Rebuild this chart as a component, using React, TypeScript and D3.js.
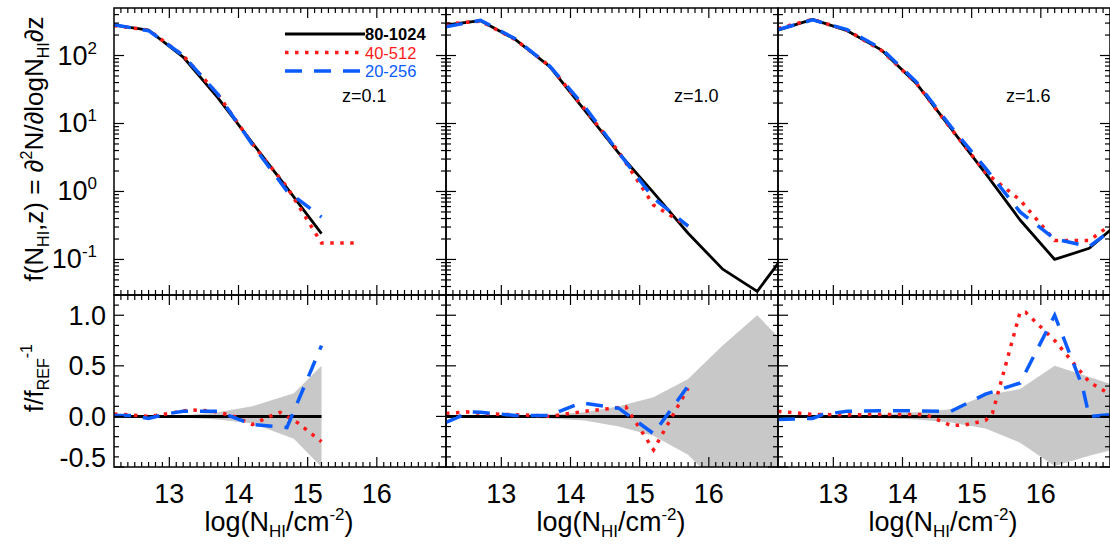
import React from 'react';
import * as d3 from 'd3';

// ---------- data ----------
const logN = [12.2, 12.7, 13.2, 13.7, 14.2, 14.7, 15.2, 15.7, 16.2, 16.7, 17.2];

const redshiftLabels = ['z=0.1', 'z=1.0', 'z=1.6'];
const legendLabels = ['80-1024', '40-512', '20-256'];
const xTicks = [13, 14, 15, 16];
const yTopTickExps = [-1, 0, 1, 2];
const yBotTicks = [-0.5, 0.0, 0.5, 1.0];
const yBotTickLabels = ['-0.5', '0.0', '0.5', '1.0'];

// z = 0.1
const f80_z01 = [281, 237, 95, 24, 5.2, 1.13, 0.24];
const f40_z01 = [275, 237, 100, 27, 5.0, 1.17, 0.175, 0.175];
const f20_z01 = [283, 232, 100, 27, 4.9, 1.02, 0.42];
// z = 1.0
const f80_z10 = [281, 325, 173, 68.5, 15.8, 3.65, 0.96, 0.243, 0.072, 0.034, 0.163];
const f40_z10 = [291, 320, 172, 70, 16.5, 3.8, 0.63, 0.31];
const f20_z10 = [265, 330, 176, 70, 18, 3.7, 0.8, 0.31];
// z = 1.6
const f80_z16 = [237, 340, 232, 120, 38.8, 8.5, 1.85, 0.38, 0.1, 0.146, 0.4];
const f40_z16 = [250, 340, 235, 118, 39, 8.4, 1.9, 0.75, 0.19, 0.19, 0.45];
const f20_z16 = [240, 335, 240, 125, 41, 9, 2.2, 0.5, 0.2, 0.155, 0.37];

// ratio f/f_REF - 1
const r40x_z01 = [12.2, 12.7, 13.0, 13.3, 13.6, 13.9, 14.2, 14.45, 14.6, 14.85, 15.2];
const r40y_z01 = [0.025, 0.0, 0.03, 0.065, 0.055, 0.01, -0.08, 0.0, 0.04, -0.06, -0.25];
const r20x_z01 = [12.2, 12.45, 12.7, 13.0, 13.2, 13.7, 14.2, 14.7, 15.2];
const r20y_z01 = [0.01, 0.01, -0.02, 0.03, 0.05, 0.05, -0.08, -0.11, 0.7];
const bandX_z01 = [12.2, 12.7, 13.2, 13.7, 14.2, 14.8, 15.2];
const bandHi_z01 = [0.003, 0.005, 0.01, 0.04, 0.1, 0.23, 0.5];
const bandLo_z01 = [-0.003, -0.005, -0.01, -0.03, -0.07, -0.22, -0.5];

const r40x_z10 = [12.2, 12.5, 12.7, 13.0, 13.5, 13.7, 14.2, 14.8, 15.2, 15.7];
const r40y_z10 = [0.03, 0.045, 0.03, 0.02, 0.01, 0.0, 0.05, 0.095, -0.33, 0.28];
const r20x_z10 = [12.2, 12.55, 12.7, 13.2, 13.7, 14.15, 14.7, 15.2, 15.7];
const r20y_z10 = [-0.06, 0.045, 0.04, 0.01, 0.01, 0.135, 0.08, -0.17, 0.3];
const bandX_z10 = [12.2, 13.2, 13.7, 14.2, 14.7, 15.2, 15.7, 16.2, 16.7, 17.2];
const bandHi_z10 = [0.003, 0.01, 0.02, 0.04, 0.1, 0.19, 0.37, 0.7, 1.0, 0.64];
const bandLo_z10 = [-0.003, -0.01, -0.02, -0.04, -0.1, -0.19, -0.38, -0.72, -1.0, -0.7];

const r40x_z16 = [12.2, 12.7, 13.2, 13.7, 14.2, 14.35, 14.7, 14.9, 15.2, 15.3, 15.7, 15.78, 16.2, 16.7, 17.2];
const r40y_z16 = [0.05, 0.02, 0.015, 0.02, 0.02, 0.015, -0.09, -0.085, -0.04, 0.03, 1.03, 1.03, 0.75, 0.34, 0.14];
const r20x_z16 = [12.2, 12.7, 12.85, 13.2, 13.7, 14.2, 14.7, 15.2, 15.7, 16.2, 16.6, 16.7, 17.2];
const r20y_z16 = [-0.03, -0.02, 0.02, 0.05, 0.055, 0.055, 0.05, 0.22, 0.33, 1.0, 0.3, 0.0, 0.03];
const bandX_z16 = [12.2, 13.2, 13.7, 14.2, 14.7, 15.2, 15.7, 16.2, 16.7, 17.2];
const bandHi_z16 = [0.003, 0.01, 0.02, 0.04, 0.07, 0.21, 0.27, 0.5, 0.39, 0.28];
const bandLo_z16 = [-0.003, -0.01, -0.015, -0.03, -0.06, -0.12, -0.26, -0.49, -0.39, -0.3];

// ---------- layout ----------
const W = 1110;
const H = 546;
const panelLefts = [114, 446, 778];
const panelW = 332;
const topY0 = 8;
const midY = 295;
const botY1 = 467;
const FONT = "'Liberation Sans', Arial, Helvetica, sans-serif";
const RED = '#ff1a1a';
const BLUE = '#0a5cff';
const GRAY = '#c8c8c8';
const TICKFS = 27;

const panels = [
  { z: redshiftLabels[0], f80: f80_z01, f40: f40_z01, f20: f20_z01, r40x: r40x_z01, r40y: r40y_z01, r20x: r20x_z01, r20y: r20y_z01, bx: bandX_z01, bhi: bandHi_z01, blo: bandLo_z01 },
  { z: redshiftLabels[1], f80: f80_z10, f40: f40_z10, f20: f20_z10, r40x: r40x_z10, r40y: r40y_z10, r20x: r20x_z10, r20y: r20y_z10, bx: bandX_z10, bhi: bandHi_z10, blo: bandLo_z10 },
  { z: redshiftLabels[2], f80: f80_z16, f40: f40_z16, f20: f20_z16, r40x: r40x_z16, r40y: r40y_z16, r20x: r20x_z16, r20y: r20y_z16, bx: bandX_z16, bhi: bandHi_z16, blo: bandLo_z16 },
];

const yTop = d3.scaleLog().domain([0.03, 500]).range([midY, topY0]);
const yBot = d3.scaleLinear().domain([-0.5, 1.2]).range([botY1, midY]);

function Panel({ i, p }: { i: number; p: any }) {
  const left = panelLefts[i];
  const right = left + panelW;
  const xs = d3.scaleLinear().domain([12.2, 17.0]).range([left, right]);
  const lineTop = d3.line<[number, number]>().x(d => xs(d[0])).y(d => yTop(d[1]));
  const lineBot = d3.line<[number, number]>().x(d => xs(d[0])).y(d => yBot(d[1]));
  const area = d3.area<[number, number, number]>().x(d => xs(d[0])).y0(d => yBot(d[2])).y1(d => yBot(d[1]));

  const pts = (vals: number[]) => vals.map((v, k) => [logN[k], v] as [number, number]);
  const zip = (xa: number[], ya: number[]) => xa.map((x, k) => [x, ya[k]] as [number, number]);
  const band = p.bx.map((x: number, k: number) => [x, p.bhi[k], p.blo[k]] as [number, number, number]);
  const zero = p.f80.map((_: number, k: number) => [logN[k], 0] as [number, number]);

  const minorX: number[] = [];
  for (let k = 1; k < 48; k++) {
    const v = 12.2 + k * 0.1;
    if (Math.abs(v - Math.round(v)) > 0.01) minorX.push(v);
  }
  const majorX = [13, 14, 15, 16];
  const logMinor: number[] = [];
  for (let e = -2; e <= 2; e++) for (let m = 2; m <= 9; m++) {
    const v = m * Math.pow(10, e);
    if (v > 0.03 && v < 500) logMinor.push(v);
  }
  const linTicks: number[] = [];
  for (let k = -5; k <= 12; k++) linTicks.push(k / 10);

  const tk = { stroke: '#000', strokeWidth: 1.2 };
  const ticks: React.ReactNode[] = [];
  [topY0, midY, botY1].forEach((yy, idx) => {
    minorX.forEach((v, k) => {
      const x = xs(v);
      if (idx !== 2) ticks.push(<line key={`mxd${idx}-${k}`} x1={x} x2={x} y1={yy} y2={yy + 5} {...tk} />);
      if (idx !== 0) ticks.push(<line key={`mxu${idx}-${k}`} x1={x} x2={x} y1={yy} y2={yy - 5} {...tk} />);
    });
    majorX.forEach((v, k) => {
      const x = xs(v);
      if (idx !== 2) ticks.push(<line key={`Mxd${idx}-${k}`} x1={x} x2={x} y1={yy} y2={yy + 10} {...tk} />);
      if (idx !== 0) ticks.push(<line key={`Mxu${idx}-${k}`} x1={x} x2={x} y1={yy} y2={yy - 10} {...tk} />);
    });
  });
  [left, right].forEach((xx, idx) => {
    const dir = idx === 0 ? 1 : -1;
    logMinor.forEach((v, k) => {
      const y = yTop(v);
      ticks.push(<line key={`lm${idx}-${k}`} x1={xx} x2={xx + dir * 5} y1={y} y2={y} {...tk} />);
    });
    yTopTickExps.forEach(e => {
      const y = yTop(Math.pow(10, e));
      ticks.push(<line key={`lM${idx}-${e}`} x1={xx} x2={xx + dir * 10} y1={y} y2={y} {...tk} />);
    });
    linTicks.forEach((v, k) => {
      const y = yBot(v);
      const major = Math.abs(v * 2 - Math.round(v * 2)) < 0.01;
      ticks.push(<line key={`bt${idx}-${k}`} x1={xx} x2={xx + dir * (major ? 10 : 5)} y1={y} y2={y} {...tk} />);
    });
  });

  return (
    <g>
      <defs>
        <clipPath id={`ct${i}`}><rect x={left} y={topY0} width={panelW} height={midY - topY0} /></clipPath>
        <clipPath id={`cb${i}`}><rect x={left} y={midY} width={panelW} height={botY1 - midY} /></clipPath>
      </defs>
      <g clipPath={`url(#ct${i})`}>
        <path d={lineTop(pts(p.f80)) || ''} fill="none" stroke="#000" strokeWidth={2.8} strokeLinejoin="round" />
        <path d={lineTop(pts(p.f40)) || ''} fill="none" stroke={RED} strokeWidth={3.5} strokeDasharray="3.5,6.5" />
        <path d={lineTop(pts(p.f20)) || ''} fill="none" stroke={BLUE} strokeWidth={3.5} strokeDasharray="17,12" />
      </g>
      <g clipPath={`url(#cb${i})`}>
        <path d={area(band) || ''} fill={GRAY} stroke="none" />
        <path d={lineBot(zero) || ''} fill="none" stroke="#000" strokeWidth={3} />
        <path d={lineBot(zip(p.r40x, p.r40y)) || ''} fill="none" stroke={RED} strokeWidth={3.5} strokeDasharray="3.5,6.5" />
        <path d={lineBot(zip(p.r20x, p.r20y)) || ''} fill="none" stroke={BLUE} strokeWidth={3.5} strokeDasharray="17,12" />
      </g>
      <rect x={left} y={topY0} width={panelW} height={midY - topY0} fill="none" stroke="#000" strokeWidth={1.5} />
      <rect x={left} y={midY} width={panelW} height={botY1 - midY} fill="none" stroke="#000" strokeWidth={1.5} />
      {ticks}
      <text x={left + 228} y={102} fontFamily={FONT} fontSize={18}>{p.z}</text>
      {xTicks.map(t => (
        <text key={t} x={xs(t)} y={503} textAnchor="middle" fontFamily={FONT} fontSize={TICKFS}>{t}</text>
      ))}
      <text x={left + panelW / 2 - 1} y={531} textAnchor="middle" fontFamily={FONT} fontSize={TICKFS}>
        log(N<tspan fontSize={17} dy={6}>HI</tspan><tspan dy={-6}>/cm</tspan><tspan fontSize={17} dy={-11}>-2</tspan><tspan dy={11}>)</tspan>
      </text>
    </g>
  );
}

export default function App() {
  const legX0 = 285;
  const legX1 = 365;
  const legY = [34, 52.5, 71];
  const legColors = ['#000', RED, BLUE];
  const legDash = [undefined, '3.5,6.5', '17,12'];
  const legW = [2.8, 3.5, 3.5];
  const legBase = [40, 58.5, 77];
  return (
    <div style={{ position: 'fixed', left: 0, top: 0 }}>
      <svg width={W} height={H} viewBox={`0 0 ${W} ${H}`} style={{ display: 'block', background: '#fff' }}>
        <rect x={0} y={0} width={W} height={H} fill="#fff" />
        {panels.map((p, i) => <Panel key={i} i={i} p={p} />)}
        {legendLabels.map((lab, k) => (
          <g key={lab}>
            <line x1={legX0} x2={legX1} y1={legY[k]} y2={legY[k]} stroke={legColors[k]} strokeWidth={legW[k]} strokeDasharray={legDash[k]} />
            <text x={legX1} y={legBase[k]} fontFamily={FONT} fontSize={16.5} fontWeight={k === 0 ? 'bold' : 'normal'} fill={legColors[k]}>{lab}</text>
          </g>
        ))}
        {yTopTickExps.map(e => (
          <text key={e} x={97} y={yTop(Math.pow(10, e)) + 9} textAnchor="end" fontFamily={FONT} fontSize={TICKFS}>
            10<tspan fontSize={17} dy={-11}>{e}</tspan>
          </text>
        ))}
        {yBotTicks.map((t, k) => (
          <text key={t} x={106} y={(t === -0.5 ? yBot(t) - 10 : yBot(t)) + 9.5} textAnchor="end" fontFamily={FONT} fontSize={TICKFS}>
            {yBotTickLabels[k]}
          </text>
        ))}
        <text transform="translate(43,149) rotate(-90)" textAnchor="middle" fontFamily={FONT} fontSize={26}>
          f(N<tspan fontSize={16} dy={6}>HI</tspan><tspan dy={-6}>,z) = ∂</tspan><tspan fontSize={16} dy={-11}>2</tspan><tspan dy={11}>N/∂logN</tspan><tspan fontSize={16} dy={6}>HI</tspan><tspan dy={-6}>∂z</tspan>
        </text>
        <text transform="translate(43,378) rotate(-90)" textAnchor="middle" fontFamily={FONT} fontSize={26}>
          f/f<tspan fontSize={16} dy={6}>REF</tspan><tspan fontSize={16} dy={-17}>-1</tspan>
        </text>
      </svg>
    </div>
  );
}
